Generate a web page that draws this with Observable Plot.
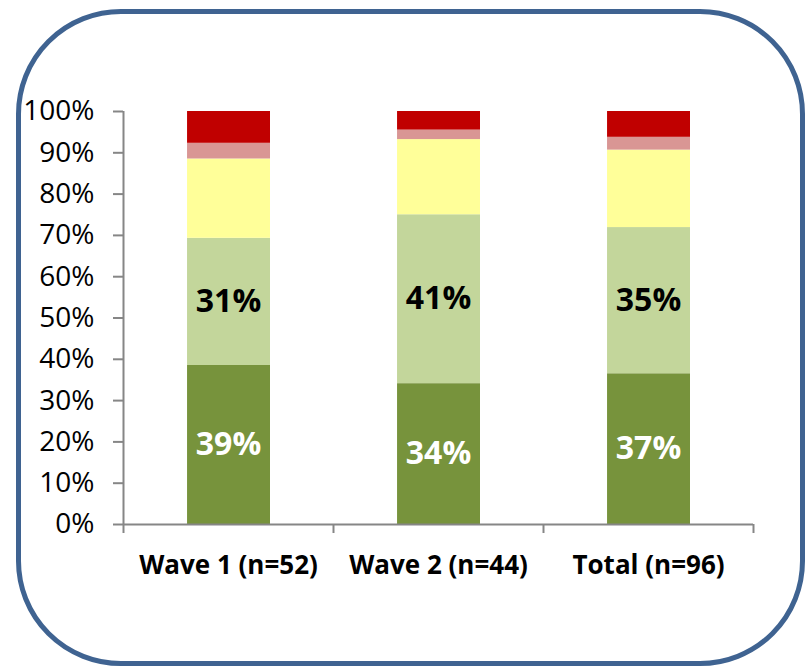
<!DOCTYPE html>
<html><head><meta charset="utf-8">
<script src="https://cdn.jsdelivr.net/npm/d3@7"></script>
<script src="https://cdn.jsdelivr.net/npm/@observablehq/plot@0.6"></script>
<style>
body{margin:0;background:#fff;}
#wrap{position:relative;width:809px;height:668px;overflow:hidden;}
#wrap svg{position:absolute;left:0;top:0;}
#frame{position:absolute;left:16px;top:9px;width:789px;height:657px;box-sizing:border-box;border:5px solid #3f6391;border-radius:105px;pointer-events:none;}
</style></head><body><div id="wrap"><div id="frame"></div></div>
<script>
const categories = ["Wave 1 (n=52)", "Wave 2 (n=44)", "Total (n=96)"];
const seriesNames = ["Level 1", "Level 2", "Level 3", "Level 4", "Level 5"];
const darkGreen = [38.5, 34.1, 36.5];
const lightGreen = [30.8, 40.9, 35.4];
const yellow = [19.2, 18.2, 18.75];
const pink = [3.8, 2.3, 3.1];
const red = [7.7, 4.5, 6.25];
const darkLabels = ["39%", "34%", "37%"];
const lightLabels = ["31%", "41%", "35%"];
const yTicks = [0, 10, 20, 30, 40, 50, 60, 70, 80, 90, 100];
const colors = ["#77933c", "#c3d69b", "#ffff99", "#d99694", "#c00000"];

const series = [darkGreen, lightGreen, yellow, pink, red];
const rows = [];
categories.forEach((c, i) => {
  let base = 0;
  series.forEach((s, k) => {
    rows.push({i, cat: c, series: seriesNames[k], y1: base, y2: base + s[i]});
    base += s[i];
  });
});
const labelRows = [];
categories.forEach((c, i) => {
  const r0 = rows.find(r => r.i === i && r.series === seriesNames[0]);
  const r1 = rows.find(r => r.i === i && r.series === seriesNames[1]);
  labelRows.push({i, y: (r0.y1 + r0.y2) / 2, text: darkLabels[i], color: "white"});
  labelRows.push({i, y: (r1.y1 + r1.y2) / 2, text: lightLabels[i], color: "black"});
});

const chart = Plot.plot({
  width: 809,
  height: 668,
  marginLeft: 123,
  marginRight: 56,
  marginTop: 111,
  marginBottom: 144,
  style: {fontFamily: "'Open Sans', sans-serif", background: "transparent"},
  x: {domain: [0, 3], axis: null},
  y: {domain: [0, 100], axis: null},
  color: {domain: seriesNames, range: colors},
  marks: [
    Plot.rect(rows, {x1: d => d.i + 0.305, x2: d => d.i + 0.70, y1: "y1", y2: "y2", fill: "series"}),
    Plot.ruleX([0], {y1: 0, y2: 100, stroke: "#868686", strokeWidth: 2}),
    Plot.ruleY([0], {x1: 0, x2: 3, stroke: "#868686", strokeWidth: 2}),
    Plot.axisY({ticks: yTicks, tickFormat: d => d + "%", tickSize: 10, tickPadding: 19, fontSize: 28, stroke: "#868686", strokeWidth: 2, fill: "black"}),
    Plot.axisX({ticks: [0, 1, 2, 3], tickFormat: () => "", tickSize: 9, stroke: "#868686", strokeWidth: 2}),
    Plot.axisX({ticks: [0.5, 1.5, 2.5], tickSize: 0, tickPadding: 31, tickFormat: d => categories[Math.floor(d)], fontSize: 26, fontWeight: "bold", fill: "black"}),
    Plot.text(labelRows, {x: d => d.i + 0.5, y: "y", text: "text", fill: "color", fontSize: 32, fontWeight: "bold"})
  ]
});
document.getElementById("wrap").insertBefore(chart, document.getElementById("frame"));
</script>
</body></html>
